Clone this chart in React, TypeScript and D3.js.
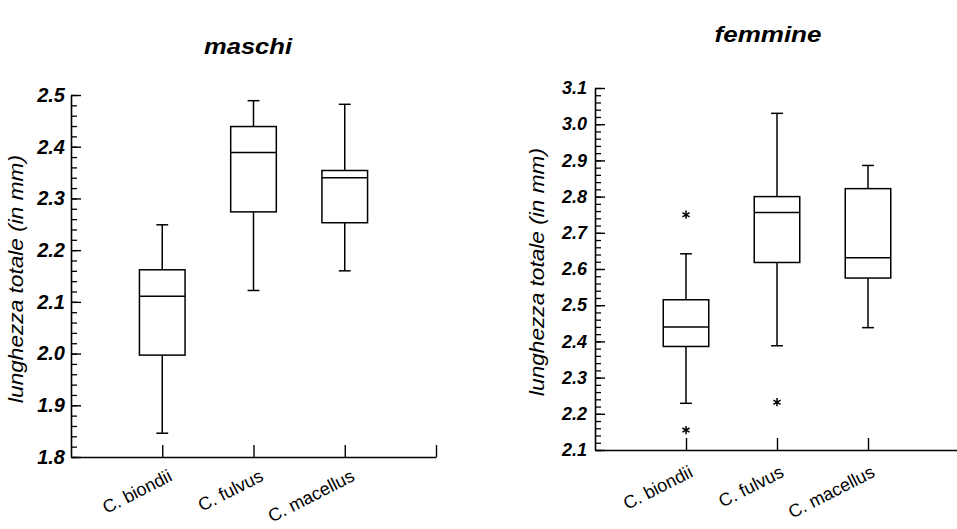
import React, { useEffect, useRef } from "react";
import * as d3 from "d3";

// species on the x axis
const categories = ["C. biondii", "C. fulvus", "C. macellus"];

// maschi (males): whisker ends, quartiles, median
const maschiLow = [1.846, 2.122, 2.16];
const maschiQ1 = [1.997, 2.274, 2.253];
const maschiMedian = [2.111, 2.389, 2.34];
const maschiQ3 = [2.162, 2.439, 2.354];
const maschiHigh = [2.249, 2.489, 2.482];
const maschiOutliers: number[][] = [[], [], []];
const maschiTicks = [1.8, 1.9, 2.0, 2.1, 2.2, 2.3, 2.4, 2.5];

// femmine (females)
const femmineLow = [2.229, 2.388, 2.438];
const femmineQ1 = [2.386, 2.618, 2.575];
const femmineMedian = [2.44, 2.756, 2.631];
const femmineQ3 = [2.515, 2.8, 2.822];
const femmineHigh = [2.642, 3.03, 2.886];
const femmineOutliers: number[][] = [[2.75, 2.155], [2.232], []];
const femmineTicks = [2.1, 2.2, 2.3, 2.4, 2.5, 2.6, 2.7, 2.8, 2.9, 3.0, 3.1];

const FONT = "'Liberation Sans', Arial, sans-serif";

type Panel = {
  title: string;
  titleX: number;
  titleY: number;
  titleLen: number;
  left: number;
  right: number;
  top: number;
  bottom: number;
  ticks: number[];
  tickFont: number;
  tickPad: number;
  labelX: number;
  catDx: number;
  catDy: number;
  low: number[];
  q1: number[];
  median: number[];
  q3: number[];
  high: number[];
  outliers: number[][];
};

const panels: Panel[] = [
  {
    title: "maschi", titleX: 248, titleY: 54, titleLen: 88,
    left: 71, right: 436, top: 95, bottom: 457,
    ticks: maschiTicks, tickFont: 20, tickPad: 6, labelX: 23, catDx: 11, catDy: 23,
    low: maschiLow, q1: maschiQ1, median: maschiMedian, q3: maschiQ3, high: maschiHigh,
    outliers: maschiOutliers,
  },
  {
    title: "femmine", titleX: 768, titleY: 42, titleLen: 107,
    left: 595, right: 959, top: 88, bottom: 450,
    ticks: femmineTicks, tickFont: 18, tickPad: 8, labelX: 544, catDx: 8, catDy: 26,
    low: femmineLow, q1: femmineQ1, median: femmineMedian, q3: femmineQ3, high: femmineHigh,
    outliers: femmineOutliers,
  },
];

function drawPanel(svg: d3.Selection<SVGSVGElement, unknown, null, undefined>, p: Panel) {
  const d0 = p.ticks[0];
  const d1 = p.ticks[p.ticks.length - 1];
  const y = d3.scaleLinear().domain([d0, d1]).range([p.bottom, p.top]);
  const x = d3.scaleLinear().domain([0, 4]).range([p.left, p.right]);
  const g = svg.append("g");

  // minor ticks every 0.02
  const nMinor = Math.round((d1 - d0) / 0.02);
  const minor = d3.range(0, nMinor + 1).map((i) => d0 + i * 0.02);
  g.append("g")
    .attr("transform", `translate(${p.left},0)`)
    .call(d3.axisLeft(y).tickValues(minor).tickSizeInner(-6).tickSizeOuter(0).tickFormat(() => ""))
    .call((a) => a.select(".domain").remove())
    .selectAll("line")
    .attr("stroke", "#000")
    .attr("stroke-width", 1.3);

  // major ticks + labels
  const yAxis = g.append("g")
    .attr("transform", `translate(${p.left},0)`)
    .call(
      d3.axisLeft(y)
        .tickValues(p.ticks)
        .tickSizeInner(-10)
        .tickSizeOuter(0)
        .tickPadding(p.tickPad)
        .tickFormat(d3.format(".1f"))
    );
  yAxis.select(".domain").attr("stroke", "#000").attr("stroke-width", 1.6);
  yAxis.selectAll("line").attr("stroke", "#000").attr("stroke-width", 1.4);
  yAxis.selectAll("text")
    .attr("fill", "#000")
    .style("font-family", FONT)
    .style("font-size", p.tickFont + "px")
    .style("font-weight", "bold")
    .style("font-style", "italic");

  // x axis, ticks pointing up
  const xAxis = g.append("g")
    .attr("transform", `translate(0,${p.bottom})`)
    .call(d3.axisBottom(x).tickValues([1, 2, 3, 4]).tickSizeInner(-12).tickSizeOuter(0).tickFormat(() => ""));
  xAxis.select(".domain").attr("stroke", "#000").attr("stroke-width", 1.6);
  xAxis.selectAll("line").attr("stroke", "#000").attr("stroke-width", 1.4);

  // category labels
  g.selectAll("text.cat")
    .data(categories)
    .join("text")
    .attr("class", "cat")
    .attr("transform", (d, i) => `translate(${x(i + 1) + p.catDx},${p.bottom + p.catDy}) rotate(-27)`)
    .attr("text-anchor", "end")
    .style("font-family", FONT)
    .style("font-size", "18px")
    .text((d) => d);

  // boxes
  const box = g.selectAll("g.box")
    .data(categories)
    .join("g")
    .attr("class", "box")
    .attr("fill", "none")
    .attr("stroke", "#000")
    .attr("stroke-width", 1.5);

  box.append("line")
    .attr("x1", (d, i) => x(i + 1)).attr("x2", (d, i) => x(i + 1))
    .attr("y1", (d, i) => y(p.high[i])).attr("y2", (d, i) => y(p.q3[i]));
  box.append("line")
    .attr("x1", (d, i) => x(i + 1)).attr("x2", (d, i) => x(i + 1))
    .attr("y1", (d, i) => y(p.q1[i])).attr("y2", (d, i) => y(p.low[i]));
  box.append("line")
    .attr("x1", (d, i) => x(i + 0.935)).attr("x2", (d, i) => x(i + 1.065))
    .attr("y1", (d, i) => y(p.high[i])).attr("y2", (d, i) => y(p.high[i]));
  box.append("line")
    .attr("x1", (d, i) => x(i + 0.935)).attr("x2", (d, i) => x(i + 1.065))
    .attr("y1", (d, i) => y(p.low[i])).attr("y2", (d, i) => y(p.low[i]));
  box.append("rect")
    .attr("x", (d, i) => x(i + 0.75))
    .attr("width", (d, i) => x(i + 1.25) - x(i + 0.75))
    .attr("y", (d, i) => y(p.q3[i]))
    .attr("height", (d, i) => y(p.q1[i]) - y(p.q3[i]))
    .attr("fill", "#fff");
  box.append("line")
    .attr("x1", (d, i) => x(i + 0.75)).attr("x2", (d, i) => x(i + 1.25))
    .attr("y1", (d, i) => y(p.median[i])).attr("y2", (d, i) => y(p.median[i]));

  // outliers as asterisks
  const star = d3.symbol().type((d3 as any).symbolAsterisk ?? d3.symbolCross).size(48);
  p.outliers.forEach((vals, i) => {
    g.selectAll(null)
      .data(vals)
      .join("path")
      .attr("transform", (v) => `translate(${x(i + 1)},${y(v)})`)
      .attr("d", star() as string)
      .attr("fill", "none")
      .attr("stroke", "#000")
      .attr("stroke-width", 1.5);
  });

  // y label
  g.append("text")
    .attr("transform", `translate(${p.labelX},${(p.top + p.bottom) / 2 + 3}) rotate(-90)`)
    .attr("text-anchor", "middle")
    .attr("textLength", 248)
    .attr("lengthAdjust", "spacingAndGlyphs")
    .style("font-family", FONT)
    .style("font-size", "20px")
    .style("font-style", "italic")
    .text("lunghezza totale (in mm)");

  // title
  g.append("text")
    .attr("x", p.titleX)
    .attr("y", p.titleY)
    .attr("text-anchor", "middle")
    .attr("textLength", p.titleLen)
    .attr("lengthAdjust", "spacingAndGlyphs")
    .style("font-family", FONT)
    .style("font-size", "22px")
    .style("font-style", "italic")
    .style("font-weight", "bold")
    .text(p.title);
}

const App = () => {
  const ref = useRef<SVGSVGElement>(null);

  useEffect(() => {
    if (!ref.current) return;
    const svg = d3.select(ref.current);
    svg.selectAll("*").remove();
    panels.forEach((p) => drawPanel(svg, p));
  }, []);

  return (
    <svg
      ref={ref}
      width={957}
      height={529}
      style={{ position: "absolute", left: 0, top: 0, background: "#fff" }}
    ></svg>
  );
};

export default App;
